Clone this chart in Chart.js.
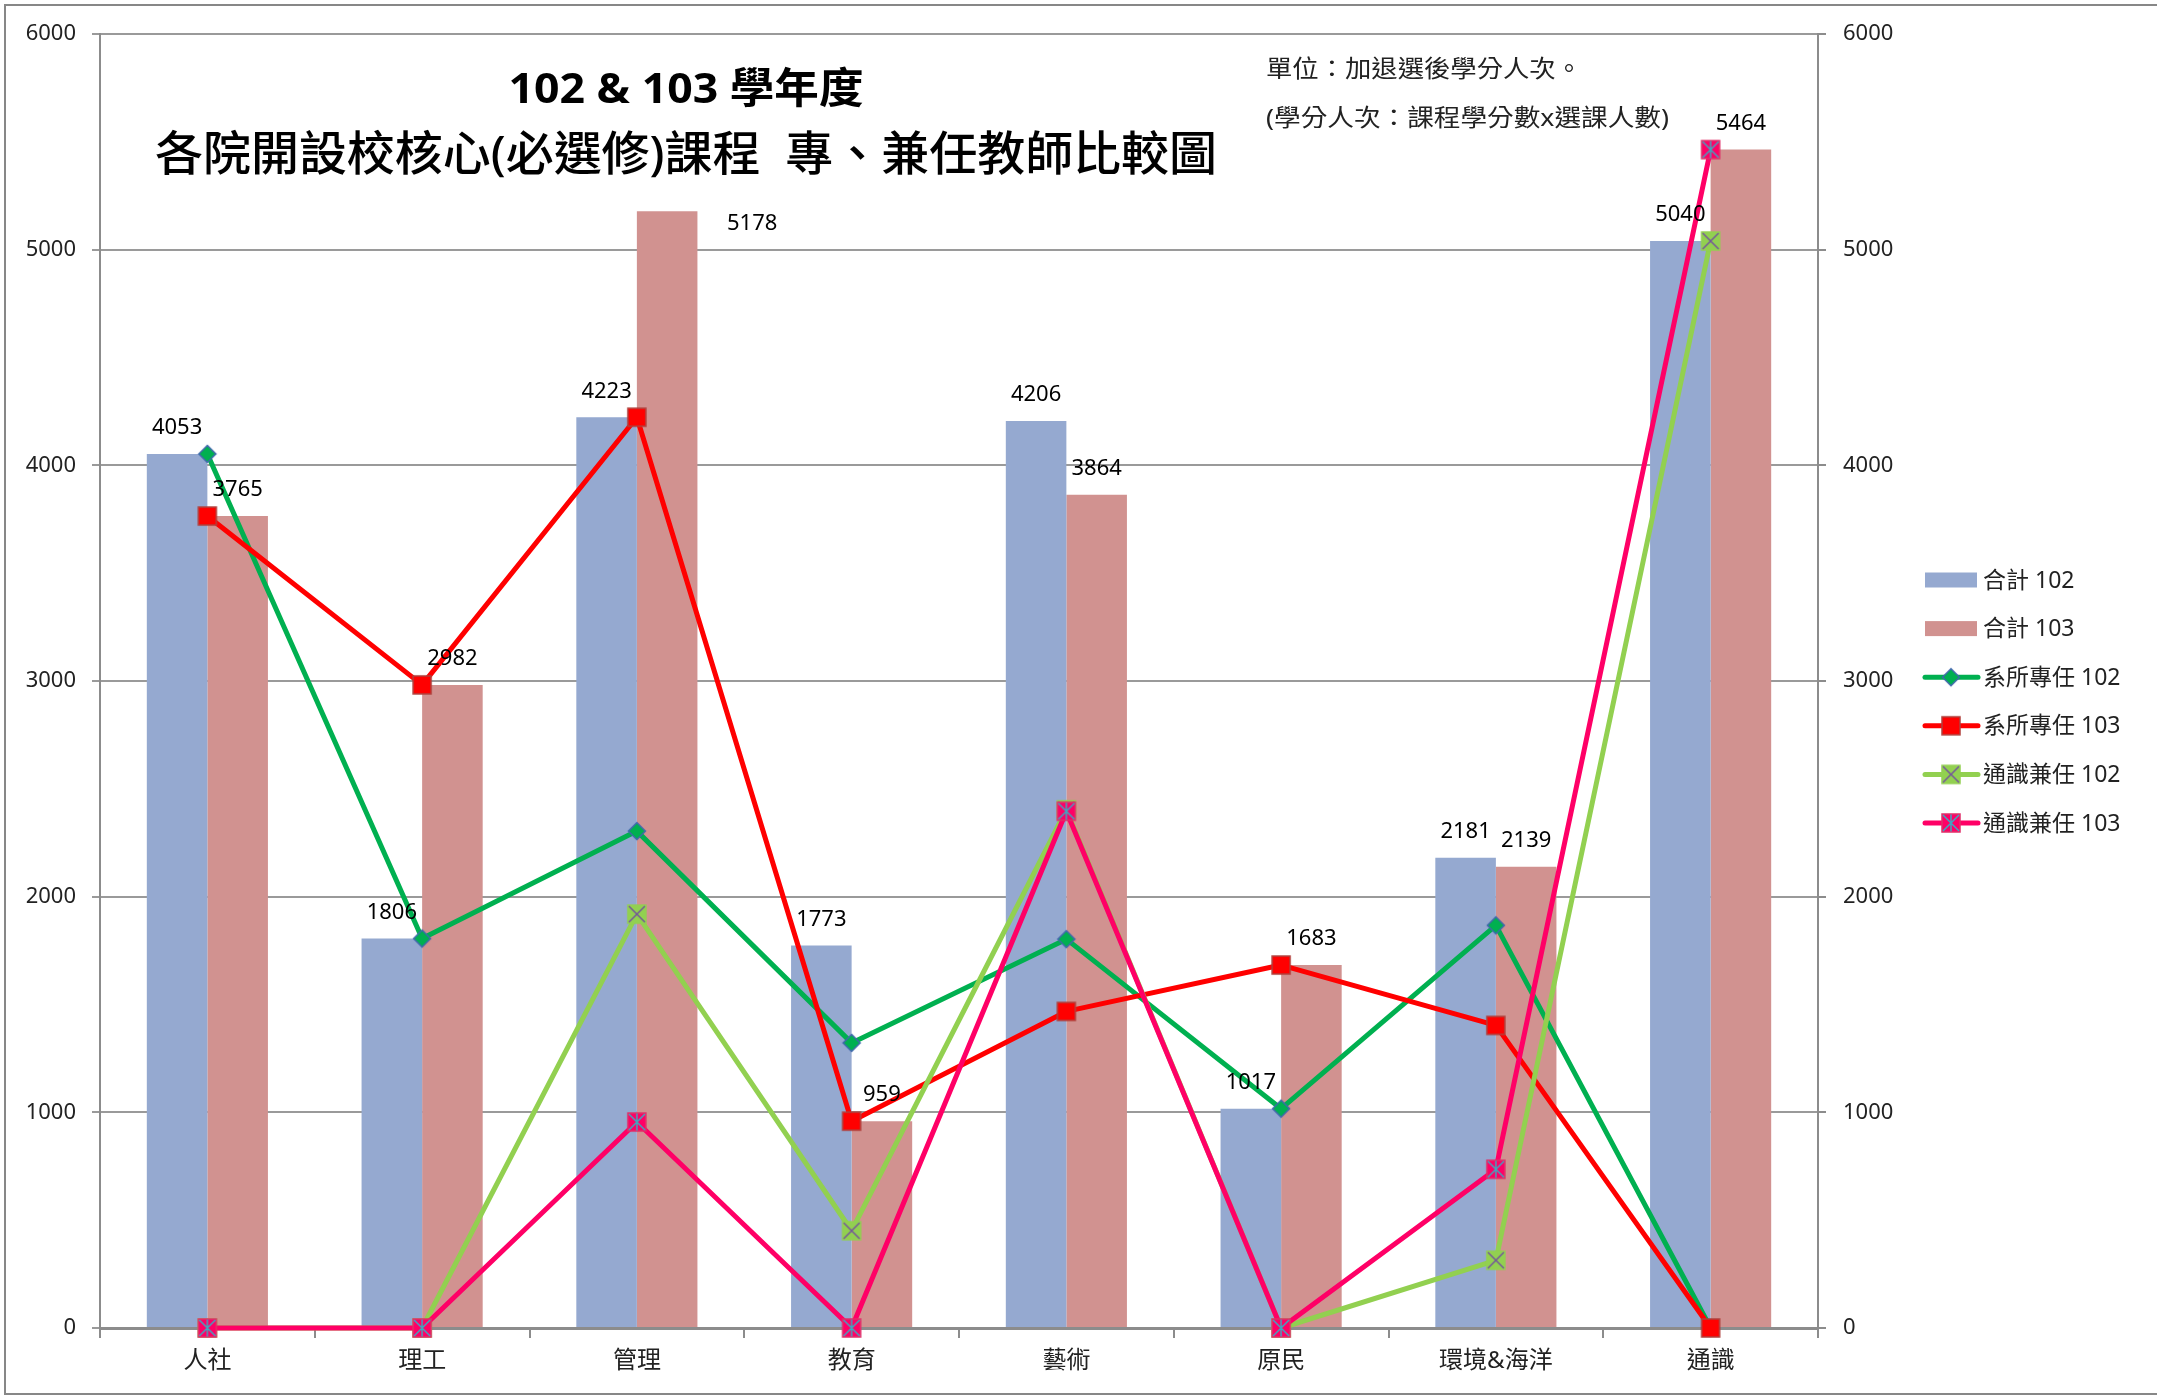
<!DOCTYPE html>
<html>
<head>
<meta charset="utf-8">
<title>102 &amp; 103 學年度 各院開設校核心(必選修)課程 專、兼任教師比較圖</title>
<script src="https://cdn.jsdelivr.net/npm/chart.js@4.4.1/dist/chart.umd.min.js"></script>
<style>
  html, body { margin: 0; padding: 0; background: #fff; }
  #wrap { width: 2157px; height: 1399px; position: relative; }
</style>
</head>
<body>
<div id="wrap"><canvas id="compareChart"></canvas></div>
<script>
// ====== DATA ======
const colleges = ["人社", "理工", "管理", "教育", "藝術", "原民", "環境&海洋", "通識"];
const total102 = [4053, 1806, 4223, 1773, 4206, 1017, 2181, 5040];
const total103 = [3765, 2982, 5178, 959, 3864, 1683, 2139, 5464];
const dept102 = [4053, 1806, 2304, 1322, 1803, 1017, 1867, 0];   // 系所專任 102
const dept103 = [3765, 2982, 4223, 959, 1468, 1683, 1403, 0];    // 系所專任 103
const gened102 = [0, 0, 1919, 451, 2403, 0, 314, 5040];          // 通識兼任 102
const gened103 = [0, 0, 955, 0, 2396, 0, 736, 5464];             // 通識兼任 103
const yTicks = [0, 1000, 2000, 3000, 4000, 5000, 6000];
const titleLines = ["102 & 103 學年度", "各院開設校核心(必選修)課程  專、兼任教師比較圖"];
const noteLines = ["單位：加退選後學分人次。", "(學分人次：課程學分數x選課人數)"];

const FONT = '"Noto Sans", "Noto Sans CJK TC", sans-serif';
const AXIS_GRAY = "#8c8c8c";

// ====== MARKERS (Excel style) ======
function makeMarker(kind) {
  const c = document.createElement("canvas");
  c.width = 24; c.height = 24;
  const g = c.getContext("2d");
  g.lineWidth = 1.5;
  if (kind === "diamond") {
    g.beginPath();
    g.moveTo(12, 3.5); g.lineTo(20.5, 12); g.lineTo(12, 20.5); g.lineTo(3.5, 12);
    g.closePath();
    g.fillStyle = "#00B050"; g.fill();
    g.strokeStyle = "#3F68AC"; g.stroke();
    return c;
  }
  const fills = { square: "#FF0000", cross: "#92D050", star: "#FF0066" };
  const edges = { square: "#B0403C", cross: "#92D050", star: "#E0306A" };
  g.fillStyle = fills[kind];
  g.fillRect(3, 3, 18, 18);
  g.strokeStyle = edges[kind];
  g.strokeRect(3, 3, 18, 18);
  if (kind === "cross" || kind === "star") {
    g.strokeStyle = kind === "cross" ? "#74579A" : "#3FA7C0";
    g.beginPath();
    g.moveTo(4, 4); g.lineTo(20, 20);
    g.moveTo(20, 4); g.lineTo(4, 20);
    if (kind === "star") { g.moveTo(12, 3.5); g.lineTo(12, 20.5); }
    g.stroke();
  }
  return c;
}

const markers = {
  diamond: makeMarker("diamond"),
  square: makeMarker("square"),
  cross: makeMarker("cross"),
  star: makeMarker("star")
};

// ====== PLUGINS ======
// white page with the grey chart-area frame
const framePlugin = {
  id: "frame",
  beforeDraw(chart) {
    const ctx = chart.ctx;
    ctx.save();
    ctx.fillStyle = "#fff";
    ctx.fillRect(0, 0, chart.width, chart.height);
    ctx.strokeStyle = "#878787";
    ctx.lineWidth = 2;
    ctx.strokeRect(5, 5, chart.width + 10, chart.height - 10);
    ctx.restore();
  }
};

function drawFitted(ctx, text, x, y, width, align) {
  const w = ctx.measureText(text).width;
  const sx = Math.min(1.15, width / w);
  ctx.save();
  ctx.translate(x, y);
  ctx.scale(sx, 1);
  ctx.textAlign = align;
  ctx.fillText(text, 0, 0);
  ctx.restore();
}

// title and unit note sit inside the plot area
const textPlugin = {
  id: "chartTexts",
  afterDraw(chart) {
    const ctx = chart.ctx;
    ctx.save();
    ctx.fillStyle = "#000";
    ctx.textBaseline = "middle";
    ctx.font = "bold 42px " + FONT;
    drawFitted(ctx, titleLines[0], 686, 91, 355, "center");
    ctx.font = "500 47px " + FONT;
    drawFitted(ctx, titleLines[1], 686, 157, 1062, "center");
    ctx.fillStyle = "#222";
    ctx.font = "24px " + FONT;
    drawFitted(ctx, noteLines[0], 1266, 70, 316, "left");
    drawFitted(ctx, noteLines[1], 1266, 119, 403, "left");
    ctx.restore();
  }
};

// value labels above the bars
const barLabelPlugin = {
  id: "barLabels",
  afterDatasetsDraw(chart) {
    const ctx = chart.ctx;
    ctx.save();
    ctx.font = "22px " + FONT;
    ctx.fillStyle = "#000";
    ctx.textAlign = "center";
    ctx.textBaseline = "middle";
    chart.data.datasets.forEach((ds, di) => {
      if (ds.type !== "bar") return;
      chart.getDatasetMeta(di).data.forEach((bar, i) => {
        let dx = 0, dy = -26;
        // 管理 103 label was dragged to the side in the original
        if (di === 1 && i === 2) { dx = 85; dy = 12; }
        ctx.fillText(String(ds.data[i]), bar.x + dx, bar.y + dy);
      });
    });
    ctx.restore();
  }
};

// legend on the right, Excel look (line + marker)
const legendPlugin = {
  id: "sideLegend",
  afterDraw(chart) {
    const ctx = chart.ctx;
    const x0 = 1925, y0 = 580, gap = 48.6;
    ctx.save();
    ctx.font = "23px " + FONT;
    ctx.textBaseline = "middle";
    ctx.textAlign = "left";
    chart.data.datasets.forEach((ds, i) => {
      const y = y0 + i * gap;
      if (ds.type === "bar") {
        ctx.fillStyle = ds.backgroundColor;
        ctx.fillRect(x0, y - 7.5, 52, 15);
      } else {
        ctx.strokeStyle = ds.borderColor;
        ctx.lineWidth = 5;
        ctx.lineCap = "round";
        ctx.beginPath();
        ctx.moveTo(x0, y);
        ctx.lineTo(x0 + 53, y);
        ctx.stroke();
        ctx.drawImage(ds.pointStyle, x0 + 26 - 12, y - 12);
      }
      ctx.fillStyle = "#222";
      ctx.fillText(ds.label, x0 + 58, y + 1);
    });
    ctx.restore();
  }
};

// ====== CHART ======
function lineSet(label, data, color, marker, order) {
  return {
    type: "line",
    label: label,
    data: data,
    yAxisID: "y1",
    borderColor: color,
    backgroundColor: color,
    borderWidth: 5,
    borderJoinStyle: "round",
    pointStyle: markers[marker],
    pointRadius: 9,
    tension: 0,
    clip: false,
    order: order
  };
}

const tickStep = yTicks[1] - yTicks[0];
const plainTick = v => String(v);

new Chart(document.getElementById("compareChart"), {
  type: "bar",
  data: {
    labels: colleges,
    datasets: [
      { type: "bar", label: "合計 102", data: total102, backgroundColor: "#95A9D0", yAxisID: "y", order: 10 },
      { type: "bar", label: "合計 103", data: total103, backgroundColor: "#D19290", yAxisID: "y", order: 10 },
      lineSet("系所專任 102", dept102, "#00B050", "diamond", 4),
      lineSet("系所專任 103", dept103, "#FF0000", "square", 3),
      lineSet("通識兼任 102", gened102, "#92D050", "cross", 2),
      lineSet("通識兼任 103", gened103, "#FF0066", "star", 1)
    ]
  },
  options: {
    responsive: true,
    maintainAspectRatio: false,
    animation: false,
    events: [],
    layout: { padding: { left: 0, top: 34, right: 239, bottom: 10 } },
    datasets: {
      bar: { categoryPercentage: 0.564, barPercentage: 1.0 }
    },
    plugins: {
      legend: { display: false },
      tooltip: { enabled: false },
      title: { display: false }
    },
    scales: {
      x: {
        offset: true,
        grid: { offset: true, drawOnChartArea: false, drawTicks: true, tickLength: 10, color: AXIS_GRAY, lineWidth: 2 },
        border: { color: AXIS_GRAY, width: 3 },
        ticks: { color: "#222", font: { family: FONT, size: 24 }, padding: 9, maxRotation: 0 },
        afterFit: s => { s.height = 61; }
      },
      y: {
        position: "left",
        min: yTicks[0],
        max: yTicks[yTicks.length - 1],
        ticks: { stepSize: tickStep, callback: plainTick, color: "#222", font: { family: FONT, size: 22 }, padding: 16 },
        grid: { color: "#9a9a9a", lineWidth: 2, tickLength: 8 },
        border: { color: AXIS_GRAY, width: 2 },
        afterFit: s => { s.width = 100; }
      },
      y1: {
        position: "right",
        min: yTicks[0],
        max: yTicks[yTicks.length - 1],
        ticks: { stepSize: tickStep, callback: plainTick, color: "#222", font: { family: FONT, size: 22 }, padding: 17 },
        grid: { drawOnChartArea: false, color: AXIS_GRAY, lineWidth: 2, tickLength: 8 },
        border: { color: AXIS_GRAY, width: 2 },
        afterFit: s => { s.width = 100; }
      }
    }
  },
  plugins: [framePlugin, barLabelPlugin, textPlugin, legendPlugin]
});
</script>
</body>
</html>
